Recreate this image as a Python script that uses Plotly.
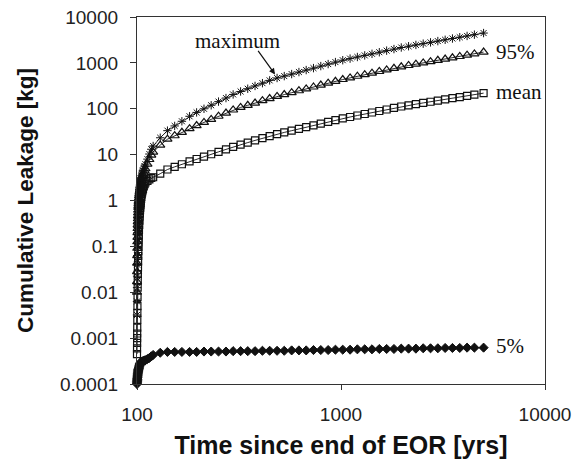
import plotly.graph_objects as go
import math

time_yrs = [100, 100.05, 100.1, 100.15, 100.2, 100.27, 100.35, 100.42, 100.5, 100.62,
            100.75, 100.87, 101, 101.12, 101.25, 101.37, 101.5, 101.62, 101.75, 101.87,
            102, 102.25, 102.5, 102.75, 103, 103.25, 103.5, 103.75, 104, 104.25,
            104.5, 104.75, 105, 105.5, 106, 106.5, 107, 108, 109, 110,
            112.5, 115, 117.5,
            120, 130, 141, 153, 166, 181, 196, 213, 231, 251,
            273, 296, 322, 349, 379, 412, 447, 486, 527, 573,
            622, 675, 733, 796, 865, 939, 1020, 1108, 1203, 1307,
            1419, 1541, 1674, 1818, 1974, 2144, 2329, 2529, 2747, 2983,
            3240, 3518, 3821, 4150, 4507, 5000]

maximum = [0.0032, 0.0063, 0.0126, 0.0224, 0.040, 0.063, 0.10, 0.141, 0.20, 0.257,
           0.331, 0.407, 0.50, 0.575, 0.676, 0.776, 0.891, 0.977, 1.07, 1.17,
           1.26, 1.41, 1.58, 1.74, 1.91, 2.04, 2.19, 2.34, 2.51, 2.66,
           2.82, 2.99, 3.16, 3.47, 3.80, 4.17, 4.53, 5.04, 5.62, 6.19,
           7.98, 10.3, 13.1,
           15.4, 23.3, 33.3, 42.2, 53.3, 68.5, 83.2, 99.8, 119, 143,
           171, 205, 238, 273, 314, 361, 415, 468, 515, 570,
           631, 697, 769, 851, 942, 1040, 1143, 1239, 1343, 1455,
           1574, 1706, 1849, 2000, 2163, 2307, 2460, 2624, 2799, 2985,
           3184, 3396, 3622, 3864, 4121, 4467]

p95 = [0.010, 0.017, 0.028, 0.043, 0.063, 0.091, 0.126, 0.158, 0.20, 0.245,
       0.295, 0.343, 0.40, 0.468, 0.537, 0.617, 0.708, 0.776, 0.851, 0.923,
       1.0, 1.12, 1.26, 1.38, 1.51, 1.62, 1.74, 1.86, 2.0, 2.11,
       2.24, 2.37, 2.51, 2.75, 3.02, 3.31, 3.60, 3.98, 4.43, 4.92,
       6.21, 7.82, 9.75,
       11.3, 16.1, 21.7, 25.8, 30.6, 36.7, 43.0, 50.4, 58.7, 68.7,
       80.5, 94.0, 107, 119, 133, 150, 167, 186, 204, 224,
       247, 271, 298, 328, 361, 397, 434, 471, 511, 553,
       598, 649, 703, 760, 822, 877, 935, 998, 1064, 1135,
       1211, 1291, 1377, 1469, 1570, 1718]

mean = [0.00045, 0.0006, 0.00079, 0.001, 0.00126, 0.0017, 0.0025, 0.00355, 0.0050, 0.0079,
        0.0126, 0.0178, 0.025, 0.0347, 0.047, 0.0617, 0.079, 0.098, 0.12, 0.148,
        0.178, 0.229, 0.295, 0.363, 0.447, 0.525, 0.617, 0.70, 0.79, 0.88,
        0.98, 1.08, 1.20, 1.35, 1.51, 1.66, 1.80, 2.04, 2.26, 2.47,
        2.67, 2.90, 3.12,
        3.21, 3.84, 4.74, 5.42, 6.17, 7.10, 8.02, 9.06, 10.2, 11.5,
        13.0, 14.7, 16.5, 18.3, 20.4, 22.8, 25.4, 28.0, 30.5, 33.3,
        36.4, 39.7, 43.3, 47.3, 51.6, 56.4, 61.4, 66.1, 71.3, 76.9,
        82.8, 89.3, 96.4, 104, 112, 119, 126, 134, 142, 151,
        160, 170, 180, 191, 203, 219]

p5 = [0.0001, 0.000105, 0.00011, 0.000115, 0.00012, 0.000125, 0.00013, 0.000135, 0.00014, 0.000148,
      0.000155, 0.000163, 0.00017, 0.000178, 0.000185, 0.000193, 0.0002, 0.000205, 0.00021, 0.000215,
      0.00022, 0.00023, 0.00024, 0.00025, 0.00026, 0.000268, 0.000275, 0.000283, 0.00029, 0.000293,
      0.000295, 0.000298, 0.0003, 0.000303, 0.000306, 0.00031, 0.000313, 0.00032, 0.000325, 0.00033,
      0.00035, 0.00037, 0.0004,
      0.00043, 0.00048, 0.0005, 0.0005, 0.0005, 0.0005, 0.0005, 0.00051, 0.00051, 0.00051,
      0.00051, 0.00052, 0.00052, 0.00052, 0.00052, 0.00053, 0.00053, 0.00053, 0.00053, 0.00054,
      0.00054, 0.00054, 0.00055, 0.00055, 0.00055, 0.00056, 0.00056, 0.00056, 0.00057, 0.00057,
      0.00057, 0.00058, 0.00058, 0.00058, 0.00059, 0.00059, 0.00059, 0.0006, 0.0006, 0.0006,
      0.00061, 0.00061, 0.00061, 0.00062, 0.00062, 0.00062]

y_ticks = [0.0001, 0.001, 0.01, 0.1, 1, 10, 100, 1000, 10000]
y_ticktext = ["0.0001", "0.001", "0.01", "0.1", "1", "10", "100", "1000", "10000"]
x_ticks = [100, 1000, 10000]
x_ticktext = ["100", "1000", "10000"]

series_labels = ["maximum", "95%", "mean", "5%"]

fig = go.Figure()

def add(yvals, symbol, size, name, lw):
    fig.add_trace(go.Scatter(
        x=time_yrs, y=yvals, mode="lines+markers", name=name,
        line=dict(color="#111111", width=0.9),
        marker=dict(symbol=symbol, size=size, color="#111111",
                    line=dict(color="#111111", width=lw)),
        cliponaxis=False, showlegend=False))

add(maximum, "asterisk-open", 7, series_labels[0], 1.0)
add(p95, "triangle-up-open", 8, series_labels[1], 1.2)
add(mean, "square-open", 7, series_labels[2], 1.2)
add(p5, "diamond", 7, series_labels[3], 1)

serif = "Liberation Serif, Times New Roman, serif"
ann_font = dict(family=serif, size=21, color="#111111")

fig.add_annotation(x=math.log10(5600), y=math.log10(p95[-1]), text=series_labels[1],
                   showarrow=False, xanchor="left", yanchor="middle", font=ann_font)
fig.add_annotation(x=math.log10(5600), y=math.log10(230), text=series_labels[2],
                   showarrow=False, xanchor="left", yanchor="middle", font=ann_font)
fig.add_annotation(x=math.log10(5600), y=math.log10(0.00068), text=series_labels[3],
                   showarrow=False, xanchor="left", yanchor="middle", font=ann_font)
fig.add_annotation(x=math.log10(310), y=math.log10(3000), text=series_labels[0],
                   showarrow=False, xanchor="center", yanchor="middle", font=ann_font)
fig.add_annotation(x=math.log10(475), y=math.log10(560), text="",
                   showarrow=True, arrowhead=2, arrowsize=1, arrowwidth=1.2,
                   arrowcolor="#111111", ax=-18, ay=-25, standoff=0)

sans = "Liberation Sans, Arial, sans-serif"
fig.update_layout(
    width=575, height=459,
    margin=dict(l=137, r=30, t=17, b=75, autoexpand=False),
    paper_bgcolor="white", plot_bgcolor="white",
    font=dict(family=sans, color="#222222"),
    xaxis=dict(type="log", range=[2, 4], tickvals=x_ticks, ticktext=x_ticktext,
               automargin=False,
               showgrid=False, zeroline=False, showline=True, linecolor="#333333",
               linewidth=1.3, mirror=True, ticks="outside", ticklen=5, tickcolor="#333333",
               ticklabelstandoff=8,
               tickfont=dict(family=sans, size=19, color="#222222"),
               title=dict(text="<b>Time since end of EOR [yrs]</b>",
                          font=dict(family=sans, size=25, color="#111111"), standoff=14)),
    yaxis=dict(type="log", range=[-4, 4], tickvals=y_ticks, ticktext=y_ticktext,
               automargin=False,
               showgrid=False, zeroline=False, showline=True, linecolor="#333333",
               linewidth=1.3, mirror=True, ticks="outside", ticklen=6, tickcolor="#333333",
               ticklabelstandoff=8,
               tickfont=dict(family=sans, size=19, color="#222222"),
               title=dict(text="<b>Cumulative Leakage [kg]</b>",
                          font=dict(family=sans, size=22.5, color="#111111"), standoff=20)),
)

fig.write_html("out.html", config={"displayModeBar": False},
               post_script="document.body.style.margin='0px';document.body.style.padding='0px';")
